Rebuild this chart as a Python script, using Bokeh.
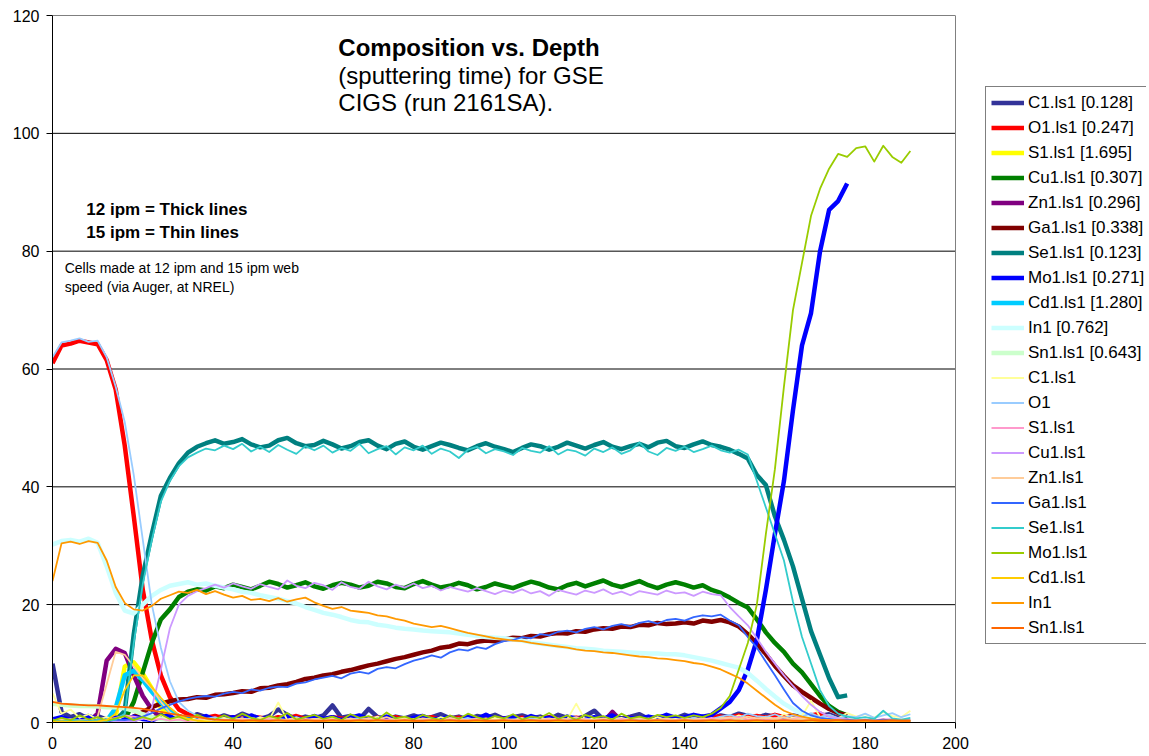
from bokeh.plotting import figure
from bokeh.models import Range1d, FixedTicker, Legend, LegendItem, Label
from bokeh.embed import file_html
from bokeh.resources import INLINE

FONT = "Liberation Sans"
STEP = 2  # sputtering-time sampling interval (min)

# ---------------- 12 ipm cell (thick lines), t = 0 .. 176 ----------------
c1_thick = [10.0, 1.8, 0.9, 1.4, 0.6, 1.1, 0.5, 1.2, 0.8, 0.4,
            1.0, 0.6, 1.3, 0.8, 1.1, 0.5, 1.4, 0.9, 0.6, 1.2,
            0.7, 1.5, 0.9, 0.6, 1.1, 2.2, 1.3, 0.5, 1.0, 0.7,
            1.2, 2.9, 0.8, 1.1, 0.6, 2.3, 0.9, 0.5, 1.0, 0.7,
            1.2, 0.6, 0.9, 1.4, 0.7, 1.0, 0.5, 1.1, 0.8, 1.3,
            0.6, 0.9, 1.2, 0.7, 1.0, 0.5, 1.3, 0.8, 0.6, 1.1,
            2.0, 0.5, 1.2, 0.7, 1.0, 1.4, 0.6, 0.9, 1.1, 0.7,
            1.3, 0.8, 1.0, 0.6, 1.2, 0.9, 1.5, 1.1, 0.8, 1.3,
            1.0, 0.7, 1.2, 0.9, 0.6, 1.1, 1.4, 0.8, 0.5]
o1_thick = [61.0, 64.0, 64.3, 64.8, 64.5, 64.2, 61.5, 56.5, 47.0, 35.0,
            22.5, 14.0, 8.0, 4.3, 2.2, 1.4, 1.0, 0.8, 1.1, 0.7,
            0.9, 0.6, 1.0, 0.8, 0.5, 0.9, 0.7, 1.1, 0.6, 0.8,
            0.5, 0.9, 0.7, 0.6, 1.0, 0.5, 0.8, 0.6, 0.9, 0.5,
            0.7, 0.6, 0.9, 0.5, 0.7, 0.8, 0.5, 0.6, 0.9, 0.5,
            0.7, 0.6, 0.8, 0.5, 0.7, 0.9, 0.5, 0.6, 0.8, 0.5,
            0.7, 0.6, 0.9, 0.5, 0.8, 0.6, 0.7, 0.5, 0.9, 0.6,
            0.8, 0.5, 0.7, 0.9, 1.0, 0.8, 1.2, 0.9, 1.1, 0.8,
            1.3, 0.9, 1.0, 0.7, 1.2, 1.5, 0.8, 0.5, 0.4]
s1_thick = [0.3, 0.1, 0.2, 0.1, 0.3, 0.2, 0.1, 1.0, 9.5, 10.2,
            8.3, 5.8, 2.5, 0.8, 0.3, 0.2, 0.1, 0.3, 0.2, 0.1,
            0.2, 0.1, 0.3, 0.1, 0.2, 0.1, 0.2, 0.3, 0.1, 0.2,
            0.1, 0.3, 0.2, 0.1, 0.2, 0.1, 0.3, 0.2, 0.1, 0.2,
            0.3, 0.1, 0.2, 0.1, 0.2, 0.3, 0.1, 0.2, 0.1, 0.3,
            0.2, 0.1, 0.2, 0.3, 0.1, 0.2, 0.1, 0.3, 0.2, 0.1,
            0.2, 0.3, 0.1, 0.2, 0.1, 0.2, 0.3, 0.1, 0.2, 0.1,
            0.3, 0.2, 0.1, 0.2, 0.4, 0.2, 0.3, 0.1, 0.5, 0.2,
            0.3, 0.6, 0.2, 0.4, 0.3, 0.2, 0.5, 0.3, 0.2]
cu1_thick = [0.2, 0.1, 0.3, 0.2, 0.1, 0.2, 0.3, 0.2, 0.5, 3.5,
             8.5, 13.5, 17.5, 19.2, 21.3, 22.2, 22.6, 22.4, 23.1, 22.8,
             23.4, 23.0, 22.6, 23.2, 23.9, 23.5, 22.9, 23.3, 23.8, 23.1,
             22.7, 23.3, 23.7, 23.4, 22.9, 23.2, 23.9, 23.6, 23.0, 22.8,
             23.5, 24.0, 23.4, 22.9, 23.2, 23.7, 23.3, 22.6, 23.0, 23.6,
             23.2, 22.8, 23.4, 23.9, 23.5, 22.9, 22.6, 23.3, 23.7, 23.1,
             23.6, 24.1, 23.4, 23.0, 23.5, 24.0, 23.3, 22.8, 23.4, 23.8,
             23.4, 22.9, 23.3, 22.5, 22.0, 21.2, 20.3, 19.5, 17.5, 15.3,
             13.5, 12.0, 10.0, 8.5, 6.5, 4.5, 2.8, 1.8, 1.2]
zn1_thick = [0.2, 0.1, 0.3, 0.2, 0.1, 1.5, 10.5, 12.5, 11.8, 8.0,
             4.5, 2.2, 0.8, 0.4, 0.2, 0.1, 0.2, 0.1, 0.2, 0.1,
             0.3, 0.1, 0.2, 0.4, 0.1, 0.2, 0.3, 0.1, 0.2, 0.1,
             0.2, 0.3, 0.1, 0.2, 0.1, 0.3, 0.2, 0.1, 0.4, 0.2,
             0.1, 0.2, 0.3, 0.1, 0.2, 0.1, 0.2, 0.3, 0.1, 0.2,
             0.3, 0.1, 0.2, 0.1, 0.3, 0.2, 0.1, 0.2, 0.4, 0.1,
             0.2, 0.1, 1.8, 0.2, 0.1, 0.2, 0.3, 0.3, 0.1, 0.2,
             0.3, 0.1, 0.2, 0.4, 0.2, 0.1, 0.3, 0.2, 0.5, 0.3,
             0.2, 0.4, 0.3, 0.2, 0.1, 0.3, 0.2, 0.1, 0.2]
ga1_thick = [0.2, 0.1, 0.3, 0.2, 0.1, 0.2, 0.1, 0.3, 0.5, 1.0,
             1.8, 2.6, 3.2, 3.6, 3.9, 4.0, 4.3, 4.2, 4.7, 4.8,
             5.0, 5.3, 5.2, 5.8, 5.9, 6.3, 6.5, 6.9, 7.4, 7.6,
             8.0, 8.2, 8.6, 8.9, 9.3, 9.7, 10.0, 10.4, 10.8, 11.1,
             11.5, 11.9, 12.2, 12.7, 12.9, 13.4, 13.3, 13.7, 13.9, 13.8,
             14.1, 14.4, 14.3, 14.7, 14.6, 15.0, 15.2, 15.1, 15.5, 15.4,
             15.8, 16.0, 15.9, 16.3, 16.2, 16.6, 16.5, 16.9, 16.7, 16.8,
             17.0, 16.8, 17.3, 17.1, 17.4, 17.0, 16.3, 15.0, 13.4, 11.6,
             9.6, 7.9, 6.3, 5.2, 4.2, 3.2, 2.3, 1.6, 1.2]
se1_thick = [0.3, 0.2, 0.4, 0.3, 0.2, 0.3, 0.2, 0.3, 2.0, 15.0,
             25.0, 32.0, 38.5, 41.5, 44.0, 45.8, 46.8, 47.4, 47.9, 47.3,
             47.6, 48.1, 47.2, 46.7, 47.0, 47.9, 48.3, 47.4, 46.9, 47.1,
             47.8, 47.2, 46.5, 46.9, 47.6, 47.9, 47.0, 46.4, 47.3, 47.7,
             46.8, 46.3, 46.9, 47.5, 47.1, 46.6, 46.2, 46.9, 47.4, 46.8,
             46.4, 45.9, 46.6, 47.2, 46.9, 46.3, 46.8, 47.5, 47.0, 46.5,
             47.1, 47.6, 46.8, 46.4, 46.9, 47.3, 46.7, 47.5, 47.8, 46.9,
             46.6, 47.2, 47.7, 47.1, 46.8, 46.3, 45.6, 44.8, 42.0, 40.3,
             35.0, 31.0, 26.5, 21.0, 15.5, 11.5, 7.5, 4.3, 4.6]
mo1_thick = [0.5, 0.9, 0.4, 0.7, 1.1, 0.6, 0.3, 0.8, 0.5, 1.0,
             0.6, 0.4, 0.9, 1.2, 0.5, 0.8, 0.6, 1.1, 0.4, 0.7,
             0.9, 0.5, 1.2, 0.6, 0.8, 0.4, 1.0, 0.7, 0.5, 1.1,
             0.6, 0.9, 0.4, 0.8, 1.2, 0.5, 0.7, 1.0, 0.6, 0.4,
             0.8, 1.1, 0.5, 0.7, 0.9, 0.4, 1.0, 0.6, 1.3, 0.5,
             0.7, 0.9, 0.5, 1.1, 0.6, 0.8, 0.4, 1.0, 0.7, 0.5,
             0.9, 0.6, 1.2, 0.5, 0.8, 0.6, 1.0, 0.7, 1.3, 0.8,
             0.9, 1.3, 1.0, 1.3, 2.4, 3.5, 5.5, 9.0, 14.0, 22.5,
             32.0, 41.0, 53.0, 64.0, 69.5, 80.0, 87.0, 88.5, 91.5]
cd1_thick = [0.2, 0.1, 0.2, 0.1, 0.2, 0.1, 0.3, 2.5, 8.0, 8.8,
             7.2, 5.2, 3.4, 2.0, 1.0, 0.5, 0.3, 0.2, 0.1, 0.2,
             0.1, 0.2, 0.1, 0.3, 0.1, 0.2, 0.1, 0.2, 0.3, 0.1,
             0.2, 0.1, 0.2, 0.1, 0.3, 0.2, 0.1, 0.2, 0.1, 0.2,
             0.3, 0.1, 0.2, 0.1, 0.2, 0.1, 0.3, 0.2, 0.1, 0.2,
             0.1, 0.2, 0.3, 0.1, 0.2, 0.1, 0.2, 0.1, 0.3, 0.2,
             0.1, 0.2, 0.1, 0.2, 0.3, 0.1, 0.2, 0.1, 0.2, 0.1,
             0.3, 0.2, 0.1, 0.2, 0.1, 0.3, 0.2, 0.4, 0.2, 0.3,
             0.2, 0.3, 0.5, 0.2, 0.3, 0.2, 0.4, 0.2, 0.1]
in1_thick = [30.2, 30.8, 31.0, 30.7, 31.2, 30.5, 26.5, 22.0, 19.0, 18.5,
             20.0, 21.5, 22.5, 23.2, 23.5, 23.8, 23.4, 23.6, 23.2, 22.9,
             22.6, 22.2, 22.0, 21.6, 21.3, 21.0, 20.6, 20.2, 19.6, 19.1,
             18.6, 18.3, 17.9, 17.4, 17.1, 17.0, 16.6, 16.4, 16.1, 15.9,
             15.8, 15.6, 15.5, 15.4, 15.3, 15.1, 14.9, 14.7, 14.5, 14.4,
             14.3, 14.1, 13.9, 13.6, 13.4, 13.2, 13.0, 12.8, 12.6, 12.5,
             12.4, 12.2, 12.1, 12.0, 11.9, 11.8, 11.7, 11.7, 11.6, 11.6,
             11.4, 11.1, 10.8, 10.5, 10.1, 9.7, 9.3, 8.4, 7.1, 5.7,
             4.4, 3.2, 2.3, 1.5, 1.0, 0.7, 0.5, 0.4, 0.3]
sn1_thick = [3.2, 3.0, 2.9, 2.8, 2.8, 2.7, 2.6, 2.6, 2.4, 2.0,
             1.4, 0.9, 0.6, 0.4, 0.3, 0.3, 0.2, 0.3, 0.2, 0.3,
             0.3, 0.2, 0.3, 0.2, 0.3, 0.3, 0.2, 0.3, 0.2, 0.3,
             0.2, 0.3, 0.2, 0.3, 0.3, 0.2, 0.3, 0.2, 0.3, 0.2,
             0.3, 0.2, 0.3, 0.2, 0.3, 0.2, 0.3, 0.3, 0.2, 0.3,
             0.2, 0.3, 0.2, 0.3, 0.2, 0.3, 0.3, 0.2, 0.3, 0.2,
             0.3, 0.2, 0.3, 0.2, 0.3, 0.2, 0.3, 0.2, 0.3, 0.3,
             0.2, 0.3, 0.2, 0.3, 0.2, 0.3, 0.2, 0.3, 0.3, 0.2,
             0.3, 0.2, 0.3, 0.2, 0.3, 0.2, 0.3, 0.2, 0.3]

# ---------------- 15 ipm cell (thin lines), t = 0 .. 190 ----------------
c1_thin = [5.0, 1.5, 2.2, 0.8, 1.4, 0.5, 0.9, 0.4, 1.1, 0.6,
           0.8, 0.3, 1.2, 0.5, 0.7, 0.4, 0.9, 0.3, 0.6, 0.8,
           0.4, 0.7, 0.3, 0.9, 0.5, 3.4, 0.4, 0.8, 0.3, 0.6,
           0.5, 0.9, 0.3, 0.7, 0.4, 0.6, 1.0, 0.3, 0.5, 0.8,
           0.4, 0.6, 0.3, 0.9, 0.5, 0.7, 0.3, 0.6, 0.4, 0.8,
           0.5, 0.3, 0.7, 0.4, 0.9, 0.3, 0.6, 0.5, 3.2, 0.4,
           0.7, 0.3, 0.6, 0.8, 0.4, 0.5, 0.3, 0.9, 0.4, 0.6,
           0.3, 0.8, 0.5, 0.4, 0.9, 0.6, 1.2, 0.7, 0.5, 1.0,
           0.6, 1.4, 0.8, 1.1, 3.7, 0.9, 1.3, 0.7, 1.6, 1.0,
           1.4, 0.8, 1.8, 1.1, 0.9, 2.0]
o1_thin = [62.0, 64.5, 64.8, 65.2, 64.6, 64.8, 62.0, 57.0, 51.0, 42.0,
           31.0, 20.0, 12.7, 7.0, 3.5, 2.0, 1.2, 0.6, 0.9, 0.4,
           0.7, 0.3, 0.8, 0.5, 0.3, 0.6, 0.4, 0.9, 0.3, 0.5,
           0.4, 0.7, 0.3, 0.5, 0.8, 0.3, 0.6, 0.4, 0.5, 0.3,
           0.6, 0.4, 0.7, 0.3, 0.5, 0.4, 0.8, 0.3, 0.5, 0.4,
           0.6, 0.3, 0.5, 0.7, 0.4, 0.3, 0.6, 0.5, 0.4, 0.7,
           0.3, 0.5, 0.6, 0.4, 0.3, 0.7, 0.5, 0.4, 0.6, 0.3,
           0.5, 0.8, 0.4, 0.6, 1.0, 1.3, 0.8, 1.5, 1.1, 0.9,
           1.4, 0.8, 1.2, 1.0, 1.6, 0.9, 1.3, 0.7, 1.1, 0.9,
           1.5, 0.8, 1.2, 1.6, 0.9, 1.4]
s1_thin = [0.5, 0.3, 0.6, 0.2, 0.4, 0.3, 0.5, 0.8, 1.2, 1.0,
           0.7, 0.4, 0.6, 0.3, 0.5, 0.2, 0.4, 0.6, 0.3, 0.5,
           0.2, 0.6, 0.4, 0.3, 0.7, 0.2, 0.5, 0.3, 0.6, 0.4,
           0.3, 0.5, 0.2, 0.6, 0.4, 0.7, 0.3, 0.5, 0.2, 0.4,
           0.6, 0.3, 0.5, 0.2, 0.4, 0.6, 0.3, 0.7, 0.4, 0.2,
           0.5, 0.3, 0.6, 0.4, 0.2, 0.5, 0.7, 0.3, 0.4, 0.6,
           0.2, 0.5, 0.3, 0.6, 0.4, 0.3, 0.7, 0.2, 0.5, 0.4,
           0.6, 0.3, 0.5, 0.8, 0.4, 0.6, 0.9, 0.5, 0.7, 0.4,
           0.8, 0.5, 0.6, 0.9, 0.4, 0.7, 0.5, 0.3, 0.6, 0.4,
           0.5, 0.3, 0.6, 0.4, 0.5, 0.3]
cu1_thin = [0.3, 0.2, 0.4, 0.1, 0.3, 0.2, 0.4, 0.2, 0.3, 0.2,
            0.6, 2.5, 9.0, 16.0, 20.0, 21.5, 22.3, 22.8, 23.4, 22.9,
            23.6, 23.1, 22.7, 23.5, 23.0, 22.6, 24.1, 23.2, 22.8, 23.7,
            23.3, 22.5, 23.8, 23.0, 22.7, 23.9, 23.1, 22.6, 23.4, 22.9,
            23.6, 22.8, 23.2, 22.4, 23.0, 22.6, 22.2, 22.8, 22.3, 21.8,
            22.4, 22.0, 22.6, 21.9, 22.3, 21.5, 22.5, 22.1, 21.7, 22.4,
            22.0, 22.6, 21.8, 22.2, 21.6, 22.3, 22.0, 21.7, 22.4, 21.9,
            22.1, 21.5, 22.2, 21.8, 21.6, 19.6, 18.0, 16.5, 14.3, 12.0,
            10.0, 8.0, 6.2, 4.5, 3.0, 1.8, 1.0, 0.7, 0.5, 0.4,
            0.5, 0.3, 0.4, 0.6, 0.3, 0.4]
zn1_thin = [0.3, 0.5, 0.2, 0.4, 0.3, 1.0, 6.5, 12.0, 11.5, 9.5,
            7.5, 5.8, 3.5, 1.7, 0.8, 0.5, 0.3, 0.6, 0.4, 0.2,
            0.4, 0.7, 0.3, 0.6, 0.9, 0.4, 0.5, 0.8, 0.3, 0.6,
            0.5, 0.8, 0.4, 0.6, 0.3, 0.7, 0.5, 0.9, 0.4, 0.6,
            0.3, 0.7, 0.5, 0.4, 0.8, 0.6, 0.3, 0.5, 0.7, 0.4,
            0.6, 0.4, 0.8, 0.3, 0.5, 0.7, 0.4, 0.6, 0.9, 0.5,
            0.4, 0.7, 0.5, 0.3, 0.6, 0.8, 0.4, 0.5, 0.7, 0.3,
            0.6, 0.5, 0.8, 0.4, 0.7, 0.9, 0.6, 1.0, 0.7, 0.8,
            0.6, 0.9, 0.5, 0.7, 0.4, 0.6, 0.3, 0.5, 0.4, 0.3,
            0.4, 0.3, 0.5, 0.3, 0.4, 0.3]
ga1_thin = [0.4, 0.2, 0.5, 0.3, 0.2, 0.4, 0.3, 0.5, 0.4, 0.6,
            1.0, 1.6, 2.4, 3.0, 3.6, 4.0, 4.3, 4.5, 4.4, 4.9,
            5.2, 5.0, 5.6, 5.4, 5.9, 6.1, 6.0, 6.6, 6.8, 7.3,
            7.6, 7.9, 7.5, 8.3, 8.6, 8.3, 9.1, 9.4, 9.2, 9.9,
            10.5, 10.9, 11.4, 11.0, 11.9, 12.4, 12.2, 12.8, 12.5, 13.3,
            13.8, 14.0, 14.5, 14.3, 15.0, 14.8, 15.4, 15.6, 15.3, 15.9,
            16.2, 15.8, 16.4, 16.7, 16.3, 16.9, 17.2, 16.8, 17.4, 17.6,
            17.3, 17.9, 18.2, 18.0, 18.3, 17.3, 16.5, 14.5, 12.7, 10.3,
            8.0, 5.6, 3.3, 2.0, 1.2, 0.8, 0.6, 0.4, 0.5, 0.3,
            0.4, 0.3, 0.5, 0.3, 0.4, 0.3]
se1_thin = [0.4, 0.2, 0.5, 0.3, 0.2, 0.4, 0.3, 0.5, 1.5, 13.5,
            23.5, 31.0, 37.5, 41.0, 43.5, 45.0, 45.8, 46.5, 46.2, 47.0,
            46.4, 47.3, 46.0, 46.8, 45.9, 47.1, 46.3, 45.6, 46.9, 46.2,
            47.0, 45.8, 46.6, 46.1, 47.3, 45.7, 46.4, 46.9, 45.5, 46.7,
            46.2, 47.0, 45.6, 46.5, 46.0, 44.9, 46.3, 46.8, 45.7, 46.4,
            46.0, 45.4, 46.6, 46.1, 45.8, 46.9, 45.5, 46.3, 46.0, 45.3,
            46.5, 45.9, 46.7, 45.6, 46.2, 47.5, 46.0, 45.4, 46.6, 46.1,
            46.8, 45.9, 46.4, 47.0, 46.2, 45.8, 46.3, 45.5, 41.0, 36.5,
            32.0, 27.5, 20.5, 14.5, 10.0, 5.5, 2.8, 1.5, 1.0, 0.7,
            0.9, 0.6, 2.0, 0.7, 0.5, 0.8]
mo1_thin = [0.3, 0.8, 0.4, 1.2, 0.5, 0.9, 0.3, 0.7, 1.1, 0.4,
            0.9, 0.5, 1.4, 0.6, 1.0, 0.4, 1.3, 0.7, 0.5, 1.2,
            0.6, 1.5, 0.8, 0.4, 1.1, 0.7, 1.6, 0.5, 0.9, 1.3,
            0.6, 1.0, 0.4, 1.4, 0.8, 1.1, 0.5, 1.7, 0.7, 1.0,
            0.5, 1.3, 0.8, 0.4, 1.2, 0.6, 1.5, 0.9, 0.5, 1.1,
            0.7, 1.4, 0.5, 1.0, 0.8, 1.6, 0.6, 1.2, 0.4, 1.3,
            0.8, 1.1, 0.5, 1.5, 0.7, 1.0, 0.6, 1.3, 0.9, 1.2,
            0.8, 1.2, 0.9, 1.5, 2.5, 4.5, 9.0, 13.5, 20.0, 32.0,
            43.0, 57.0, 70.0, 78.0, 86.0, 90.6, 94.0, 96.5, 96.0, 97.5,
            97.8, 95.2, 97.9, 96.0, 95.0, 97.0]
cd1_thin = [0.1, 0.2, 0.1, 0.2, 0.1, 0.2, 0.4, 1.5, 5.5, 8.0,
            8.0, 6.0, 4.2, 2.5, 1.3, 0.6, 0.3, 0.2, 0.1, 0.2,
            0.1, 0.2, 0.1, 0.2, 0.1, 0.3, 0.1, 0.2, 0.1, 0.2,
            0.2, 0.1, 0.2, 0.1, 0.2, 0.1, 0.3, 0.1, 0.2, 0.1,
            0.1, 0.2, 0.1, 0.3, 0.1, 0.2, 0.1, 0.2, 0.1, 0.2,
            0.2, 0.1, 0.2, 0.1, 0.3, 0.1, 0.2, 0.1, 0.2, 0.1,
            0.1, 0.2, 0.1, 0.2, 0.1, 0.2, 0.3, 0.1, 0.2, 0.1,
            0.2, 0.1, 0.3, 0.2, 0.1, 0.2, 0.3, 0.2, 0.1, 0.2,
            0.3, 0.2, 0.1, 0.2, 0.3, 0.1, 0.2, 0.1, 0.2, 0.1,
            0.2, 0.1, 0.2, 0.1, 0.2, 0.1]
in1_thin = [24.0, 30.4, 30.7, 30.3, 30.8, 30.5, 27.5, 23.0, 20.3, 19.2,
            19.0, 19.8, 21.0, 21.6, 22.2, 22.0, 22.5, 21.8, 22.3, 21.7,
            21.2, 21.5, 20.8, 21.0, 20.6, 21.1, 20.5, 20.9, 21.2, 20.4,
            19.8, 19.3, 19.6, 19.0, 18.8, 18.6, 18.2, 18.0, 17.6, 17.3,
            16.8, 16.5, 16.2, 16.4, 16.0, 15.6, 15.2, 14.9, 14.6, 14.3,
            14.1, 13.9, 13.8, 13.5, 13.3, 13.1, 12.9, 12.7, 12.4, 12.2,
            12.1, 11.9, 11.8, 11.6, 11.4, 11.2, 11.1, 10.9, 10.8, 10.6,
            10.4, 10.1, 9.9, 9.5, 9.0, 8.3, 7.6, 6.6, 5.4, 4.2,
            3.0, 2.0, 1.4, 1.0, 0.7, 0.5, 0.4, 0.4, 0.3, 0.3,
            0.3, 0.2, 0.3, 0.2, 0.3, 0.3]
sn1_thin = [3.5, 3.2, 3.1, 3.0, 2.9, 2.9, 2.8, 2.7, 2.6, 2.5,
            2.3, 2.0, 1.8, 1.5, 1.3, 1.1, 0.9, 0.7, 0.5, 0.4,
            0.4, 0.3, 0.4, 0.3, 0.3, 0.4, 0.3, 0.3, 0.4, 0.3,
            0.3, 0.4, 0.3, 0.3, 0.4, 0.3, 0.4, 0.3, 0.3, 0.4,
            0.3, 0.3, 0.4, 0.3, 0.4, 0.3, 0.3, 0.4, 0.3, 0.3,
            0.4, 0.3, 0.3, 0.4, 0.3, 0.3, 0.4, 0.3, 0.4, 0.3,
            0.3, 0.4, 0.3, 0.3, 0.4, 0.3, 0.3, 0.4, 0.3, 0.3,
            0.4, 0.3, 0.3, 0.4, 0.3, 0.4, 0.3, 0.3, 0.4, 0.3,
            0.3, 0.4, 0.3, 0.3, 0.4, 0.3, 0.3, 0.4, 0.3, 0.3,
            0.4, 0.3, 0.3, 0.4, 0.3, 0.3]

x_ticks = [0, 20, 40, 60, 80, 100, 120, 140, 160, 180, 200]
y_ticks = [0, 20, 40, 60, 80, 100, 120]
X_MAX, Y_MAX = 200, 120

THICK, THIN = 4.5, 1.8
series = [
    ("C1.ls1 [0.128]", c1_thick, "#333399", THICK),
    ("O1.ls1 [0.247]", o1_thick, "#FF0000", THICK),
    ("S1.ls1 [1.695]", s1_thick, "#FFFF00", THICK),
    ("Cu1.ls1 [0.307]", cu1_thick, "#008000", THICK),
    ("Zn1.ls1 [0.296]", zn1_thick, "#800080", THICK),
    ("Ga1.ls1 [0.338]", ga1_thick, "#800000", THICK),
    ("Se1.ls1 [0.123]", se1_thick, "#008080", THICK),
    ("Mo1.ls1 [0.271]", mo1_thick, "#0000FF", THICK),
    ("Cd1.ls1 [1.280]", cd1_thick, "#00CCFF", THICK),
    ("In1 [0.762]", in1_thick, "#CCFFFF", THICK),
    ("Sn1.ls1 [0.643]", sn1_thick, "#CCFFCC", THICK),
    ("C1.ls1", c1_thin, "#FFFF99", THIN),
    ("O1", o1_thin, "#99CCFF", THIN),
    ("S1.ls1", s1_thin, "#FF99CC", THIN),
    ("Cu1.ls1", cu1_thin, "#CC99FF", THIN),
    ("Zn1.ls1", zn1_thin, "#FFCC99", THIN),
    ("Ga1.ls1", ga1_thin, "#3366FF", THIN),
    ("Se1.ls1", se1_thin, "#33CCCC", THIN),
    ("Mo1.ls1", mo1_thin, "#99CC00", THIN),
    ("Cd1.ls1", cd1_thin, "#FFCC00", THIN),
    ("In1", in1_thin, "#FF9900", THIN),
    ("Sn1.ls1", sn1_thin, "#FF6600", THIN),
]

# The frame runs past t = 200 so the legend can sit to the right of the
# plotted area; the axis and grid are bounded to 0..200 by hand.
p = figure(width=1149, height=756, x_range=Range1d(0, 242.3), y_range=Range1d(0, Y_MAX),
           output_backend="svg", toolbar_location=None,
           min_border_left=52, min_border_right=3, min_border_top=15, min_border_bottom=34,
           background_fill_color="white", border_fill_color="white")
p.outline_line_color = None
p.xgrid.visible = False
p.ygrid.visible = False
p.xaxis.ticker = FixedTicker(ticks=x_ticks)
p.yaxis.ticker = FixedTicker(ticks=y_ticks)
p.xaxis.bounds = (0, X_MAX)
for ax in (p.xaxis[0], p.yaxis[0]):
    ax.axis_line_color = "black"
    ax.axis_line_width = 1
    ax.major_tick_line_color = "black"
    ax.major_tick_in = 0
    ax.major_tick_out = 6
    ax.minor_tick_line_color = None
    ax.major_label_text_font = FONT
    ax.major_label_text_font_size = "16px"
    ax.major_label_text_color = "black"
p.xaxis.major_label_standoff = 8
p.yaxis.major_label_standoff = 7

# horizontal gridlines and the right-hand edge of the plot area
grid_y = y_ticks[1:]
p.segment(x0=[0] * len(grid_y), y0=grid_y, x1=[X_MAX] * len(grid_y), y1=grid_y,
          line_color="black", line_width=1)
p.segment(x0=[X_MAX], y0=[0], x1=[X_MAX], y1=[Y_MAX], line_color="#808080", line_width=1)

items = []
for name, vals, color, width in series:
    xs = [STEP * i for i in range(len(vals))]
    r = p.line(xs, vals, line_color=color, line_width=width, line_join="round")
    items.append(LegendItem(label=name, renderers=[r]))

legend = Legend(items=items, location=(933, 78), orientation="vertical",
                label_text_font=FONT, label_text_font_size="17px", label_text_color="black",
                label_height=21, glyph_height=21, glyph_width=33, label_standoff=4,
                spacing=4, padding=5, margin=0,
                border_line_color="black", border_line_width=1,
                background_fill_color="white", background_fill_alpha=1.0)
p.add_layout(legend)

def note(x, y, text, size, bold=False):
    p.add_layout(Label(x=x, y=y, text=text, text_font=FONT, text_font_size=size,
                       text_font_style="bold" if bold else "normal",
                       text_baseline="middle", text_align="left", text_color="black"))

note(63.3, 114.6, "Composition vs. Depth", "24px", bold=True)
note(63.3, 109.8, "(sputtering time) for GSE", "24px")
note(63.3, 105.2, "CIGS (run 2161SA).", "24px")
note(7.5, 87.1, "12 ipm = Thick lines", "17px", bold=True)
note(7.5, 83.2, "15 ipm = Thin lines", "17px", bold=True)
note(2.7, 77.1, "Cells made at 12 ipm and 15 ipm web", "14px")
note(2.7, 73.9, "speed (via Auger, at NREL)", "14px")

open("out.html", "w").write(file_html(p, INLINE))
